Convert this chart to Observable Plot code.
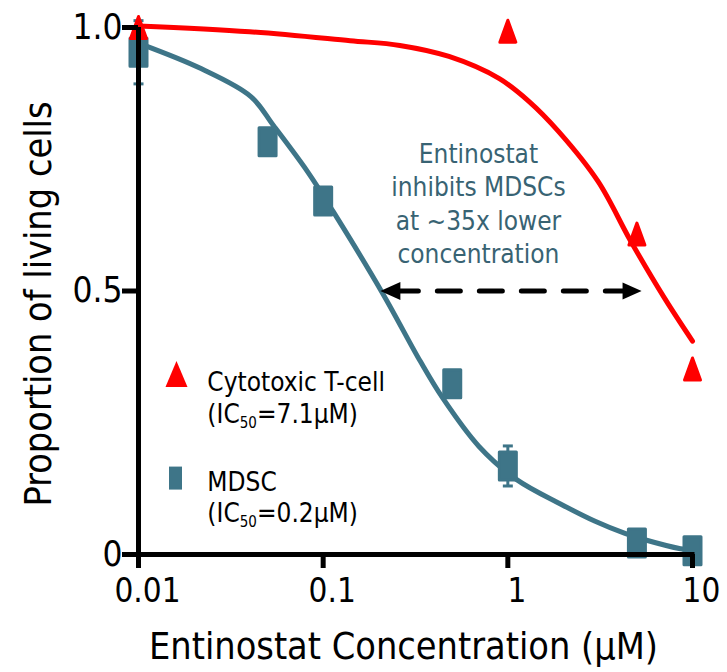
<!DOCTYPE html>
<html>
<head>
<meta charset="utf-8">
<script src="https://cdn.jsdelivr.net/npm/d3@7"></script>
<script src="https://cdn.jsdelivr.net/npm/@observablehq/plot@0.6"></script>
<style>
  html, body { margin: 0; padding: 0; background: #fff; }
  #chart svg { display: block; }
</style>
</head>
<body>
<div id="chart"></div>
<script>
// ---------- data ----------
const xTicks = [0.01, 0.1, 1, 10];
const xTickLabels = ["0.01", "0.1", "1", "10"];
const yTicks = [0, 0.5, 1];
const yTickLabels = ["0", "0.5", "1.0"];

const xTitle = "Entinostat Concentration (μM)";
const yTitle = "Proportion of living cells";

// Cytotoxic T-cell measurements
const tcellConc = [0.01, 1, 5, 10];
const tcellValue = [1.0, 0.993, 0.608, 0.352];

// MDSC measurements
const mdscConc = [0.01, 0.05, 0.1, 0.5, 1, 5, 10];
const mdscValue = [0.953, 0.783, 0.671, 0.324, 0.168, 0.022, 0.007];
const mdscErr = [0.06, 0, 0, 0, 0.038, 0, 0];

// fitted curves
const tcellFitConc = [0.01, 0.04, 0.14, 0.26, 0.48, 0.9, 1.3, 1.88, 3.08, 4.64, 7.07, 10];
const tcellFitValue = [1.003, 0.992, 0.975, 0.966, 0.945, 0.903, 0.86, 0.803, 0.708, 0.594, 0.486, 0.405];

const mdscFitConc = [0.0104, 0.0218, 0.0406, 0.0538, 0.0821, 0.1132, 0.2104, 0.3365, 0.4417, 0.698, 1.117, 1.95, 2.97, 4.31, 5.52, 8.61, 9.64];
const mdscFitValue = [0.968, 0.922, 0.869, 0.814, 0.727, 0.651, 0.495, 0.366, 0.298, 0.205, 0.142, 0.095, 0.063, 0.040, 0.028, 0.011, 0.009];

// annotation
const noteText = ["Entinostat\ninhibits MDSCs\nat ~35x lower\nconcentration"];
const notePos = [0.693, 0.668];
const arrowConc = [0.204, 5.3];
const arrowValue = 0.5;

// legend
const legendNames = ["Cytotoxic T-cell", "MDSC"];
const legendIC50 = ["(IC50=7.1μM)", "(IC50=0.2μM)"];
const legendSymbolPos = [[0.01606, 0.3425], [0.01586, 0.145]];
const legendTextX = 0.0236;
const legendNameY = [0.3254, 0.1357];
const legendIC50Y = [0.2647, 0.0769];

// ---------- styles ----------
const RED = "#ff0000";
const TEAL = "#3e7588";
const NOTE = "#386373";
const FONT = "'DejaVu Sans Condensed', 'DejaVu Sans', sans-serif";

// custom symbols
const tallTriangle = { draw(c) { c.moveTo(0, -11); c.lineTo(8, 11); c.lineTo(-8, 11); c.closePath(); } };
const tallRect = { draw(c) { c.rect(-8.5, -14, 17, 28); } };
const legendTriangle = { draw(c) { c.moveTo(0, -13); c.lineTo(11, 13); c.lineTo(-11, 13); c.closePath(); } };
const legendRect = { draw(c) { c.rect(-6.5, -11.5, 13, 23); } };
const headLeft = { draw(c) { c.moveTo(0, 0); c.lineTo(20, -9); c.lineTo(20, 9); c.closePath(); } };
const headRight = { draw(c) { c.moveTo(0, 0); c.lineTo(-19, -8.5); c.lineTo(-19, 8.5); c.closePath(); } };
const capSym = { draw(c) { c.moveTo(-5, 0); c.lineTo(5, 0); } };

// ---------- tables ----------
const tcell = tcellConc.map((x, i) => ({ x, y: tcellValue[i] }));
const mdsc = mdscConc.map((x, i) => ({ x, y: mdscValue[i], e: mdscErr[i] }));
const mdscBars = mdsc.filter(d => d.e > 0);
const tcellFit = tcellFitConc.map((x, i) => ({ x, y: tcellFitValue[i] }));
const mdscFit = mdscFitConc.map((x, i) => ({ x, y: mdscFitValue[i] }));
const arrowLine = arrowConc.map(x => ({ x, y: arrowValue }));

const chart = Plot.plot({
  width: 727,
  height: 672,
  marginLeft: 138,
  marginRight: 35,
  marginTop: 27,
  marginBottom: 118,
  style: { fontFamily: FONT, background: "#fff", overflow: "visible" },
  x: { type: "log", domain: [0.01, 10], axis: null },
  y: { domain: [0, 1], axis: null },
  marks: [
    // fitted curves
    Plot.line(tcellFit, { x: "x", y: "y", stroke: RED, strokeWidth: 5, curve: "catmull-rom" }),
    Plot.line(mdscFit, { x: "x", y: "y", stroke: TEAL, strokeWidth: 5, curve: "catmull-rom" }),
    // error bars
    Plot.ruleX(mdscBars, { x: "x", y1: d => d.y - d.e, y2: d => d.y + d.e, stroke: TEAL, strokeWidth: 3 }),
    Plot.dot(mdscBars, { x: "x", y: d => d.y + d.e, symbol: capSym, stroke: TEAL, strokeWidth: 3, fill: "none" }),
    Plot.dot(mdscBars, { x: "x", y: d => d.y - d.e, symbol: capSym, stroke: TEAL, strokeWidth: 3, fill: "none" }),
    // markers
    Plot.dot(mdsc, { x: "x", y: "y", symbol: tallRect, fill: TEAL, stroke: TEAL, strokeWidth: 3, strokeLinejoin: "round" }),
    Plot.dot(tcell, { x: "x", y: "y", symbol: tallTriangle, fill: RED, stroke: RED, strokeWidth: 3, strokeLinejoin: "round" }),
    // dashed double arrow
    Plot.line(arrowLine, { x: "x", y: "y", stroke: "#000", strokeWidth: 5, strokeDasharray: "23,19", strokeDashoffset: 27 }),
    Plot.dot([arrowLine[0]], { x: "x", y: "y", symbol: headLeft, fill: "#000", stroke: "none" }),
    Plot.dot([arrowLine[1]], { x: "x", y: "y", symbol: headRight, fill: "#000", stroke: "none" }),
    // annotation
    Plot.text(noteText, { x: () => notePos[0], y: () => notePos[1], text: d => d, fill: NOTE, fontSize: 26, lineHeight: 1.29, textAnchor: "middle", lineAnchor: "middle" }),
    // legend
    Plot.dot([legendSymbolPos[0]], { x: d => d[0], y: d => d[1], symbol: legendTriangle, fill: RED, stroke: "none" }),
    Plot.dot([legendSymbolPos[1]], { x: d => d[0], y: d => d[1], symbol: legendRect, fill: TEAL, stroke: "none" }),
    Plot.text(legendNames, { x: () => legendTextX, y: (d, i) => legendNameY[i], text: d => d, fill: "#000", fontSize: 26, textAnchor: "start", lineAnchor: "middle" }),
    Plot.text(legendIC50, { x: () => legendTextX, y: (d, i) => legendIC50Y[i], text: d => d, fill: "#000", fontSize: 26, textAnchor: "start", lineAnchor: "middle" }),
    // axes
    Plot.axisY({ ticks: yTicks, tickFormat: (d) => yTickLabels[yTicks.indexOf(d)], tickSize: 16, tickPadding: 0, strokeWidth: 5, fontSize: 35, fill: "#000", stroke: "#000", label: null }),
    Plot.axisX({ ticks: xTicks, tickSize: 14, strokeWidth: 5, stroke: "#000", fill: "none", label: null }),
    Plot.axisX({ ticks: xTicks, tickFormat: d => xTickLabels[xTicks.indexOf(d)], tickSize: 0, tickPadding: 24, dx: 9, fontSize: 33, fill: "#000", label: null }),
    Plot.ruleX([xTicks[0]], { stroke: "#000", strokeWidth: 5 }),
    Plot.ruleY([yTicks[0]], { stroke: "#000", strokeWidth: 5, strokeLinecap: "square" }),
    // axis titles
    Plot.text([xTitle], { text: d => d, frameAnchor: "bottom", dx: -12, dy: 92, fontSize: 37.5, fill: "#000", textAnchor: "middle", lineAnchor: "middle" }),
    Plot.text([yTitle], { text: d => d, frameAnchor: "left", rotate: -90, dx: -100, dy: 13, fontSize: 37.5, fill: "#000", textAnchor: "middle", lineAnchor: "middle" })
  ]
});

document.getElementById("chart").appendChild(chart);

// subscripts in the legend: IC50 -> IC<sub>50</sub>
const NS = "http://www.w3.org/2000/svg";
chart.querySelectorAll("text").forEach(t => {
  const s = t.textContent;
  const m = s.match(/^(.*IC)50(.*)$/);
  if (!m || t.children.length) return;
  t.textContent = "";
  t.appendChild(document.createTextNode(m[1]));
  const sub = document.createElementNS(NS, "tspan");
  sub.setAttribute("font-size", "15");
  sub.setAttribute("dy", "5");
  sub.textContent = "50";
  t.appendChild(sub);
  const rest = document.createElementNS(NS, "tspan");
  rest.setAttribute("dy", "-5");
  rest.textContent = m[2];
  t.appendChild(rest);
});
</script>
</body>
</html>
